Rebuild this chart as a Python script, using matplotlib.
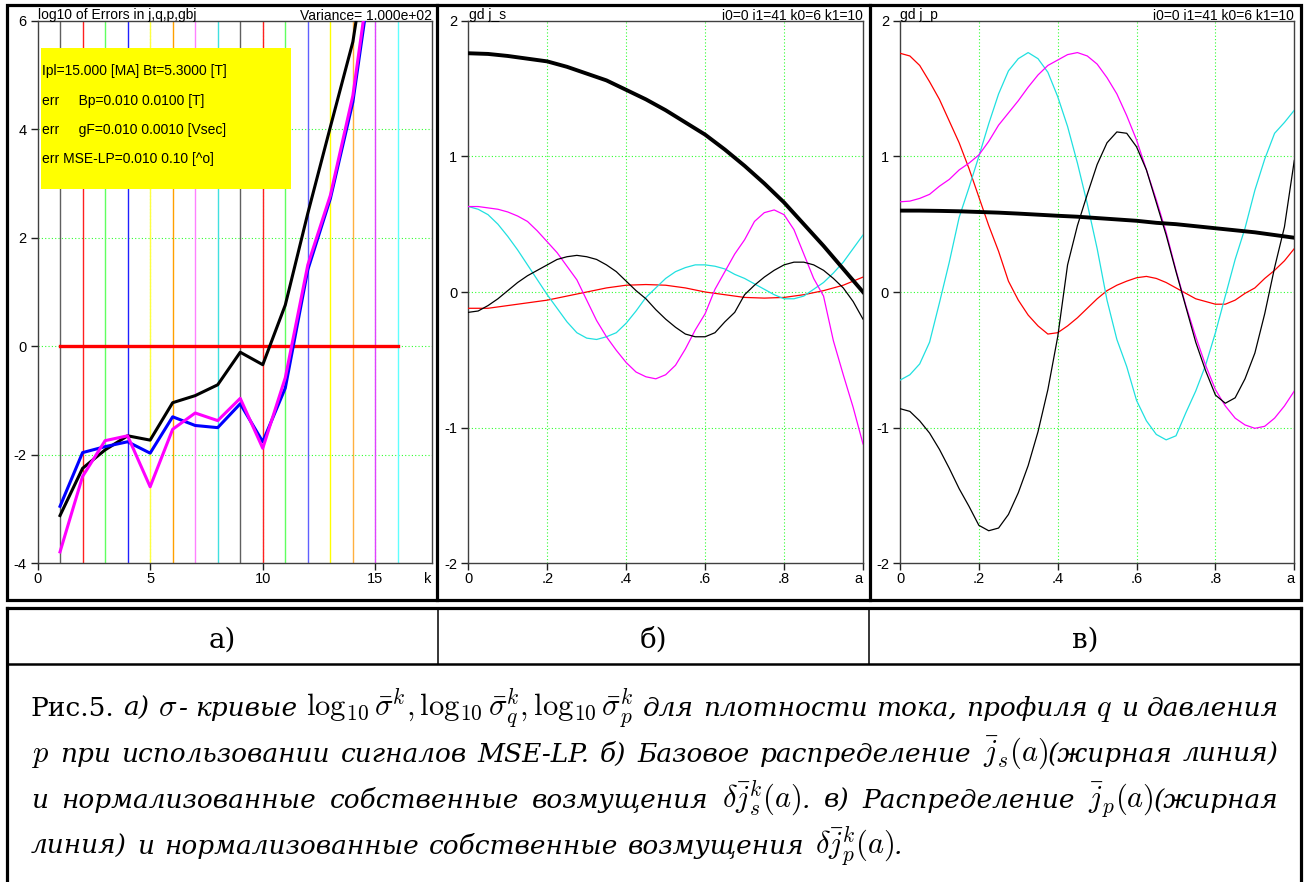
"""
Recreation of Fig.5: sigma-curves and eigen-perturbations of j_s, j_p.
"""

import matplotlib

matplotlib.use("Agg")

import matplotlib.pyplot as plt
from matplotlib.patches import Rectangle

plt.rcParams["axes.unicode_minus"] = False
plt.rcParams["mathtext.fontset"] = "cm"

# ---------------------------------------------------------------- data
k_vals = [1, 2, 3, 4, 5, 6, 7, 8, 9, 10, 11, 12, 13, 14, 15, 16]
sigma_j = [-3.12, -2.25, -1.91, -1.65, -1.73, -1.04, -0.91, -0.71,
           -0.11, -0.34, 0.76, 2.45, 4.04, 5.61, 8.3, 10.0]
sigma_q = [-2.95, -1.96, -1.85, -1.76, -1.97, -1.30, -1.46, -1.50,
           -1.06, -1.76, -0.77, 1.41, 2.72, 4.50, 7.4, 9.4]
sigma_p = [-3.79, -2.40, -1.74, -1.65, -2.59, -1.53, -1.23, -1.37,
           -0.96, -1.88, -0.58, 1.50, 2.78, 4.62, 7.6, 9.6]
k_line_colors = ["#606060", "#ff2020", "#60ff60", "#2020ff", "#ffff40",
                 "#ffa000", "#ff80ff", "#40e0e0", "#606060", "#ff2020",
                 "#60ff60", "#6060ff", "#ffff00", "#ffb040", "#e040ff",
                 "#60ffff"]

# coarse radial grid (smooth curves) and fine grid (oscillating curves)
a_grid = [0.0, 0.05, 0.1, 0.15, 0.2, 0.25, 0.3, 0.35, 0.4, 0.45, 0.5,
          0.55, 0.6, 0.65, 0.7, 0.75, 0.8, 0.85, 0.9, 0.95, 1.0]
a_fine = [0.0, 0.025, 0.05, 0.075, 0.1, 0.125, 0.15, 0.175, 0.2, 0.225,
          0.25, 0.275, 0.3, 0.325, 0.35, 0.375, 0.4, 0.425, 0.45, 0.475,
          0.5, 0.525, 0.55, 0.575, 0.6, 0.625, 0.65, 0.675, 0.7, 0.725,
          0.75, 0.775, 0.8, 0.825, 0.85, 0.875, 0.9, 0.925, 0.95, 0.975, 1.0]

# panel b: base j_s and its perturbations
js_base = [1.76, 1.755, 1.74, 1.72, 1.70, 1.66, 1.61, 1.56, 1.49, 1.42, 1.34,
           1.25, 1.16, 1.05, 0.93, 0.80, 0.66, 0.50, 0.34, 0.17, 0.0]
js_red = [-0.12, -0.12, -0.10, -0.08, -0.06, -0.03, 0.00, 0.03, 0.05, 0.055,
          0.05, 0.03, 0.00, -0.02, -0.04, -0.045, -0.04, -0.02, 0.01, 0.05,
          0.11]
js_black = [-0.15, -0.14, -0.10, -0.05, 0.01, 0.07, 0.12, 0.16, 0.20, 0.24,
            0.26, 0.27, 0.26, 0.24, 0.20, 0.15, 0.08, 0.01, -0.05, -0.13,
            -0.20, -0.26, -0.31, -0.33, -0.33, -0.30, -0.22, -0.15, -0.02,
            0.05, 0.11, 0.16, 0.20, 0.22, 0.22, 0.20, 0.16, 0.10, 0.03,
            -0.07, -0.20]
js_cyan = [0.63, 0.61, 0.57, 0.50, 0.41, 0.31, 0.20, 0.09, -0.02, -0.12,
           -0.22, -0.30, -0.34, -0.35, -0.33, -0.30, -0.23, -0.14, -0.04,
           0.03, 0.10, 0.15, 0.18, 0.20, 0.20, 0.19, 0.17, 0.13, 0.10, 0.06,
           0.02, -0.02, -0.05, -0.05, -0.03, 0.02, 0.07, 0.14, 0.22, 0.32,
           0.42]
js_magenta = [0.63, 0.63, 0.62, 0.61, 0.59, 0.56, 0.52, 0.45, 0.37, 0.29,
              0.19, 0.09, -0.06, -0.21, -0.33, -0.43, -0.52, -0.59, -0.625,
              -0.64, -0.61, -0.54, -0.42, -0.28, -0.16, 0.02, 0.15, 0.28,
              0.385, 0.52, 0.585, 0.605, 0.57, 0.46, 0.28, 0.10, -0.03,
              -0.36, -0.61, -0.85, -1.12]

# panel c: base j_p and its perturbations
jp_base = [0.60, 0.60, 0.598, 0.595, 0.59, 0.585, 0.578, 0.57, 0.562, 0.555,
           0.545, 0.535, 0.525, 0.51, 0.50, 0.485, 0.47, 0.455, 0.44, 0.42,
           0.40]
jp_black = [-0.86, -0.88, -0.95, -1.04, -1.16, -1.30, -1.45, -1.58, -1.72,
            -1.76, -1.74, -1.64, -1.48, -1.28, -1.03, -0.72, -0.33, 0.20,
            0.49, 0.72, 0.94, 1.10, 1.18, 1.17, 1.07, 0.90, 0.66, 0.42, 0.15,
            -0.11, -0.37, -0.58, -0.76, -0.82, -0.78, -0.64, -0.45, -0.16,
            0.18, 0.48, 0.97]
jp_red = [1.76, 1.74, 1.67, 1.55, 1.42, 1.26, 1.10, 0.91, 0.70, 0.49, 0.30,
          0.08, -0.06, -0.17, -0.25, -0.31, -0.30, -0.25, -0.19, -0.12, -0.05,
          0.01, 0.05, 0.08, 0.105, 0.115, 0.10, 0.07, 0.03, -0.01, -0.05,
          -0.07, -0.09, -0.09, -0.06, -0.01, 0.03, 0.10, 0.16, 0.23, 0.32]
jp_cyan = [-0.65, -0.61, -0.53, -0.37, -0.08, 0.22, 0.55, 0.77, 1.00, 1.24,
           1.46, 1.63, 1.72, 1.765, 1.72, 1.62, 1.44, 1.22, 0.95, 0.65, 0.32,
           -0.06, -0.35, -0.55, -0.80, -0.95, -1.05, -1.09, -1.06, -0.89,
           -0.73, -0.54, -0.30, -0.03, 0.24, 0.47, 0.75, 0.98, 1.17, 1.25,
           1.34]
jp_magenta = [0.665, 0.67, 0.69, 0.72, 0.78, 0.83, 0.90, 0.95, 1.01, 1.11,
              1.23, 1.32, 1.41, 1.51, 1.60, 1.67, 1.71, 1.75, 1.765, 1.74,
              1.68, 1.58, 1.46, 1.30, 1.12, 0.90, 0.68, 0.44, 0.16, -0.10,
              -0.33, -0.54, -0.72, -0.84, -0.93, -0.98, -1.005, -0.99, -0.93,
              -0.84, -0.73]

info_lines = ["Ipl=15.000 [MA] Bt=5.3000 [T]",
              "err     Bp=0.010 0.0100 [T]",
              "err     gF=0.010 0.0010 [Vsec]",
              "err MSE-LP=0.010 0.10 [^o]"]

panel_labels = ["а)", "б)", "в)"]

# words of each caption line; "|" glues pieces of one word together
caption_lines = [
    ["Рис.5.", "а)", r"$\sigma$|-", "кривые",
     r"$\log_{10}\bar{\sigma}^k,\log_{10}\bar{\sigma}^k_q,\log_{10}\bar{\sigma}^k_p$",
     "для", "плотности", "тока,", "профиля", "$q$", "и", "давления"],
    ["$p$", "при", "использовании", "сигналов", "MSE-LP.", "б)", "Базовое",
     "распределение", r"$\bar{j}_s(a)$|(жирная", "линия)"],
    ["и", "нормализованные", "собственные", "возмущения",
     r"$\delta\bar{j}^k_s(a)$|.", "в)", "Распределение",
     r"$\bar{j}_p(a)$|(жирная"],
    ["линия)", "и", "нормализованные", "собственные", "возмущения",
     r"$\delta\bar{j}^k_p(a)$|."],
]
UPRIGHT = {"Рис.5."}

# ---------------------------------------------------------------- layout
W, H = 1312, 882
SANS = "Liberation Sans"
SERIF = "DejaVu Serif"
GRID = dict(color="#30ff30", linestyle=(0, (1, 2)), linewidth=0.8)
TEXT_SIZE, MATH_SIZE = 19, 22


def px_axes(fig, x0, y0, x1, y1):
    """Add axes given pixel box (top-left origin)."""
    return fig.add_axes([x0 / W, 1 - y1 / H, (x1 - x0) / W, (y1 - y0) / H])


def style_axes(ax):
    for spine in ax.spines.values():
        spine.set_color("#404040")
        spine.set_linewidth(1.0)
    ax.tick_params(direction="out", length=5, width=1, color="#202020",
                   labelsize=10.5, pad=1.5)
    ax.tick_params(axis="y", pad=3)
    for lab in ax.get_xticklabels() + ax.get_yticklabels():
        lab.set_family(SANS)


fig = plt.figure(figsize=(W / 100, H / 100), dpi=100)

top, bottom = 20.7, 563.3

# panel a
ax_a = px_axes(fig, 37.5, top, 431.7, bottom)
ax_a.set_xlim(0, 17.5)
ax_a.set_ylim(-4, 6)
for y in [-2, 0, 2, 4]:
    ax_a.axhline(y, zorder=1, **GRID)
for x in [5, 10, 15]:
    ax_a.axvline(x, zorder=1, **GRID)
for k, c in zip(k_vals, k_line_colors):
    ax_a.axvline(k, color=c, linewidth=1.0, zorder=2)
ax_a.plot([k_vals[0], k_vals[-1]], [0, 0], color="#ff0000", linewidth=2.4,
          zorder=3)
ax_a.plot(k_vals, sigma_j, color="black", linewidth=2.2, zorder=4)
ax_a.plot(k_vals, sigma_q, color="#0000ff", linewidth=2.2, zorder=5)
ax_a.plot(k_vals, sigma_p, color="#ff00ff", linewidth=2.2, zorder=6)
ax_a.set_xticks([0, 5, 10, 15, 17.5])
ax_a.set_xticklabels(["0", "5", "10", "15", "k"])
ax_a.set_yticks([-4, -2, 0, 2, 4, 6])
ax_a.set_yticklabels(["-4", "-2", "0", "2", "4", "6"])
style_axes(ax_a)
ax_a.xaxis.get_major_ticks()[-1].tick1line.set_visible(False)
ax_a.get_xticklabels()[-1].set_horizontalalignment("right")


def profile_panel(x0, x1, base, red, red_x, curves):
    ax = px_axes(fig, x0, top, x1, bottom)
    ax.set_xlim(0, 1)
    ax.set_ylim(-2, 2)
    for y in [-1, 0, 1]:
        ax.axhline(y, zorder=1, **GRID)
    for x in [0.2, 0.4, 0.6, 0.8]:
        ax.axvline(x, zorder=1, **GRID)
    ax.plot(red_x, red, color="#ff0000", linewidth=0.9, zorder=3)
    for vals, c in curves:
        ax.plot(a_fine, vals, color=c, linewidth=0.9, zorder=3)
    ax.plot(a_grid, base, color="black", linewidth=2.8, zorder=4)
    ax.set_xticks([0, 0.2, 0.4, 0.6, 0.8, 1.0])
    ax.set_xticklabels(["0", ".2", ".4", ".6", ".8", "a"])
    ax.set_yticks([-2, -1, 0, 1, 2])
    ax.set_yticklabels(["-2", "-1", "0", "1", "2"])
    style_axes(ax)
    ax.get_xticklabels()[-1].set_horizontalalignment("right")
    return ax


ax_b = profile_panel(468.3, 863.0, js_base, js_red, a_grid,
                     [(js_cyan, "#20e0e0"), (js_magenta, "#ff00ff"),
                      (js_black, "black")])
ax_c = profile_panel(900.0, 1294.3, jp_base, jp_red, a_fine,
                     [(jp_cyan, "#20e0e0"), (jp_magenta, "#ff00ff"),
                      (jp_black, "black")])

# ---------------------------------------------------------------- overlay
ov = fig.add_axes([0, 0, 1, 1])
ov.set_xlim(0, W)
ov.set_ylim(H, 0)
ov.axis("off")

lw3 = 2.3
# upper frame with panel separators
ov.add_patch(Rectangle((6.5, 5.3), 1294, 595, fill=False, edgecolor="black",
                       linewidth=lw3))
for x in [436.8, 869.5]:
    ov.plot([x, x], [5.3, 600.3], color="black", linewidth=lw3)
# lower table
ov.plot([6.5, 6.5], [608.3, H], color="black", linewidth=lw3)
ov.plot([1300.5, 1300.5], [608.3, H], color="black", linewidth=lw3)
ov.plot([6.5, 1300.5], [608.3, 608.3], color="black", linewidth=lw3)
ov.plot([6.5, 1300.5], [664, 664], color="black", linewidth=1.8)
for x in [438, 869]:
    ov.plot([x, x], [608.3, 664], color="black", linewidth=1.1)

# panel headers
header_kw = dict(family=SANS, fontsize=10, va="baseline")
ov.text(38, 19.5, "log10 of Errors in j,q,p,gbj", ha="left", **header_kw)
ov.text(432, 19.5, "Variance= 1.000e+02", ha="right", **header_kw)
ov.text(469, 19.5, "gd j_s", ha="left", **header_kw)
ov.text(862.7, 19.5, "i0=0 i1=41 k0=6 k1=10", ha="right", **header_kw)
ov.text(900.5, 19.5, "gd j_p", ha="left", **header_kw)
ov.text(1294, 19.5, "i0=0 i1=41 k0=6 k1=10", ha="right", **header_kw)

# yellow info box
ov.add_patch(Rectangle((41, 48), 250, 141, facecolor="#ffff00",
                       edgecolor="none", zorder=5))
for i, line in enumerate(info_lines):
    ov.text(42, 71 + 29.5 * i, line, family=SANS, fontsize=10, ha="left",
            va="center", zorder=6)

# column labels
for cx, lab in zip([222, 653, 1085], panel_labels):
    ov.text(cx, 640, lab, family=SERIF, fontsize=20, ha="center", va="center")

# caption, justified line by line
renderer = fig.canvas.get_renderer()
x_left, x_right = 31, 1279
baselines = [716, 762, 808, 854]
for n, (words, yb) in enumerate(zip(caption_lines, baselines)):
    word_parts = []
    for w in words:
        parts = []
        for piece in w.split("|"):
            is_math = piece.startswith("$")
            style = "normal" if piece in UPRIGHT else "italic"
            t = ov.text(0, yb, piece, family=SERIF, style=style,
                        fontsize=MATH_SIZE if is_math else TEXT_SIZE,
                        ha="left", va="baseline")
            parts.append((t, t.get_window_extent(renderer).width))
        word_parts.append(parts)
    widths = [sum(pw for _, pw in parts) for parts in word_parts]
    if n < len(caption_lines) - 1:
        gap = (x_right - x_left - sum(widths)) / (len(words) - 1)
    else:
        gap = 10
    x = x_left
    for parts in word_parts:
        for t, pw in parts:
            t.set_x(x)
            x += pw
        x += gap

fig.savefig("out.png", dpi=100)
plt.close(fig)
